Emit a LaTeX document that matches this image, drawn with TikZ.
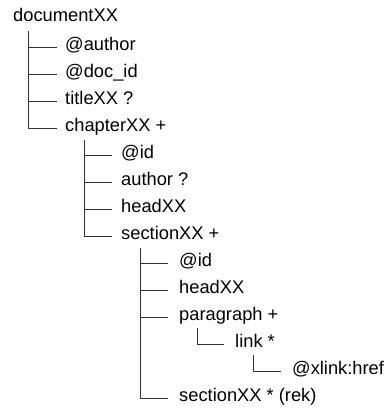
\documentclass[tikz,border=0pt]{standalone}
\usepackage{fontspec}
\setmainfont{Liberation Sans}
\begin{document}
\begin{tikzpicture}[x=1pt,y=-1pt,
  lbl/.style={anchor=mid west,inner sep=0pt,font=\fontsize{18.3}{20}\selectfont},
  tree/.style={line width=0.8pt,black!80}]
\useasboundingbox (0,0) rectangle (390,409);
% rows: y = 20 + 27 i
\node[lbl] (doc) at (13,19) {documentXX};
\node[lbl] (author) at (65,47.5) {@author};
\node[lbl] (docid) at (65,74.5) {@doc\_id};
\node[lbl] (title) at (65,101.5) {titleXX ?};
\node[lbl] (chapter) at (65,128.5) {chapterXX +};
\node[lbl] (cid) at (121,155.5) {@id};
\node[lbl] (cauthor) at (121,182.5) {author ?};
\node[lbl] (chead) at (121,209.5) {headXX};
\node[lbl] (section) at (121,236.5) {sectionXX +};
\node[lbl] (sid) at (179,263.5) {@id};
\node[lbl] (shead) at (179,290.5) {headXX};
\node[lbl] (para) at (179,317.5) {paragraph +};
\node[lbl] (link) at (235,344.5) {link *};
\node[lbl] (href) at (292,371.5) {@xlink:href};
\node[lbl] (srek) at (179,398.5) {sectionXX * (rek)};
% level 0
\coordinate (v0) at (28,31);
\draw[tree] (v0) |- ([xshift=-8pt]chapter.mid west);
\foreach \n in {author,docid,title} \draw[tree] (v0 |- \n.mid west) -- ([xshift=-8pt]\n.mid west);
% chapter
\coordinate (v1) at (84,140);
\draw[tree] (v1) |- ([xshift=-9pt]section.mid west);
\foreach \n in {cid,cauthor,chead} \draw[tree] (v1 |- \n.mid west) -- ([xshift=-9pt]\n.mid west);
% section
\coordinate (v2) at (140,248);
\draw[tree] (v2) |- ([xshift=-11pt]srek.mid west);
\foreach \n in {sid,shead,para} \draw[tree] (v2 |- \n.mid west) -- ([xshift=-11pt]\n.mid west);
% paragraph
\coordinate (v3) at (197,328);
\draw[tree] (v3) |- ([xshift=-11pt]link.mid west);
% link
\coordinate (v4) at (253,355);
\draw[tree] (v4) |- ([xshift=-11pt]href.mid west);
\end{tikzpicture}
\end{document}
